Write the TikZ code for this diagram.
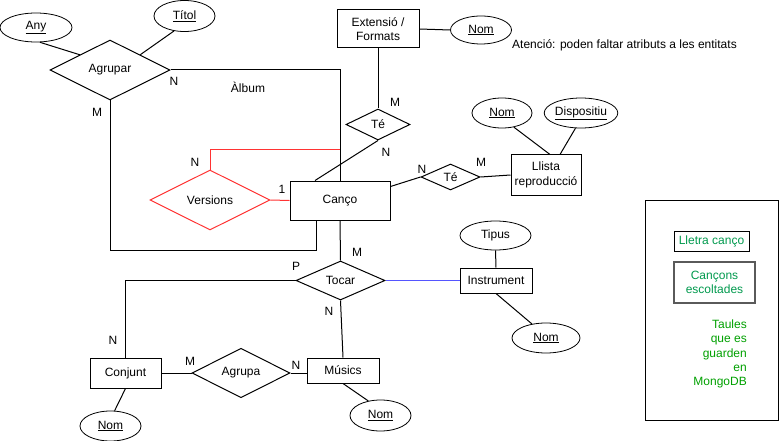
\documentclass[tikz,border=0pt]{standalone}
\usepackage{fontspec}
\setmainfont{Liberation Sans}
\usetikzlibrary{shapes.geometric}
\definecolor{erred}{RGB}{255,51,51}
\definecolor{erblue}{RGB}{85,85,255}
\definecolor{mgreen}{RGB}{0,153,77}
\definecolor{tgreen}{RGB}{0,160,0}
\definecolor{dgray}{RGB}{90,90,90}
\begin{document}
\begin{tikzpicture}[x=1pt,y=-1pt,
  every node/.style={font=\fontsize{12}{14.4}\selectfont, inner sep=0pt},
  ent/.style={draw, rectangle, fill=white, align=center, line width=1pt},
  rel/.style={draw, diamond, fill=white, align=center, line width=1pt},
  attr/.style={draw, ellipse, fill=white, align=center, line width=0.8pt},
  lbl/.style={},
  conn/.style={line width=1pt},
]
\useasboundingbox (0,0) rectangle (779,441);

% attributes
\node[attr, minimum width=72pt, minimum height=29pt] (any) at (36,27.5) {\underline{Any}};
\node[attr, minimum width=61pt, minimum height=31pt] (titol) at (184.5,16) {\underline{Títol}};
\node[attr, minimum width=61pt, minimum height=28pt] (nomext) at (481,30) {\underline{Nom}};
\node[attr, minimum width=60pt, minimum height=30pt] (nomll) at (502,113) {\underline{Nom}};
\node[attr, minimum width=64pt, minimum height=30pt] (disp) at (581,113) {\underline{Dispositiu}};
\node[attr, minimum width=71pt, minimum height=29pt] (tipus) at (495.5,235.5) {Tipus};
\node[attr, minimum width=68pt, minimum height=30pt] (nominst) at (546,338) {\underline{Nom}};
\node[attr, minimum width=61pt, minimum height=31pt] (nommus) at (380.5,415.5) {\underline{Nom}};
\node[attr, minimum width=61pt, minimum height=30pt] (nomconj) at (110.5,426) {\underline{Nom}};

% entities
\node[ent, minimum width=100pt, minimum height=39pt] (canco) at (340,200.5) {Canço};
\node[ent, minimum width=82pt, minimum height=38pt] (ext) at (378,29) {Extensió /\\Formats};
\node[ent, minimum width=70pt, minimum height=40pt] (llista) at (546,175) {Llista\\reproducció};
\node[ent, minimum width=72pt, minimum height=25pt] (inst) at (496,280.5) {Instrument};
\node[ent, minimum width=71pt, minimum height=30pt] (conjunt) at (125.5,373) {Conjunt};
\node[ent, minimum width=72pt, minimum height=25pt] (musics) at (343,370.5) {Músics};

% relationships
\node[rel, minimum width=120pt, minimum height=60pt] (agrupar) at (110,70) {Agrupar};
\node[rel, draw=erred, minimum width=120pt, minimum height=60pt] (versions) at (210,200) {Versions};
\node[rel, minimum width=64pt, minimum height=31pt] (te1) at (378,124.5) {Té};
\node[rel, minimum width=59pt, minimum height=26pt] (te2) at (450.5,177) {Té};
\node[rel, minimum width=89pt, minimum height=39pt] (tocar) at (340.5,280.5) {Tocar};
\node[rel, minimum width=98pt, minimum height=40pt] (agrupa) at (241,373) {Agrupa};

% red connectors (versions)
\draw[conn, erred] (versions.east) -- (canco.west);
\draw[conn, erred] (versions.north) -- ++(0,-20) -| (canco.north);

% black connectors
\draw[conn] (any.-75) -- (agrupar.north west);
\draw[conn] (titol.235) -- (agrupar.north east);
\draw[conn] (agrupar.east) -| (canco.north);
\draw[conn] (agrupar.south) -- ++(0,150) -| ([xshift=-24pt]canco.south);
\draw[conn] (ext.east) -- (nomext.west);
\draw[conn] (ext.south) -- (te1.north);
\draw[conn] (te1.south) -- ([xshift=-25pt]canco.north);
\draw[conn] ([yshift=14pt]canco.east) -- (te2.west);
\draw[conn] (te2.east) -- (llista.west);
\draw[conn] (nomll.-50) -- ([xshift=4pt]llista.north);
\draw[conn] (disp.250) -- ([xshift=14pt]llista.north);
\draw[conn] (canco.south) -- (tocar.north);
\draw[conn, erblue] (tocar.east) -- (inst.west);
\draw[conn] (tipus.south) -- (inst.north);
\draw[conn] (inst.south) -- (nominst.135);
\draw[conn] (tocar.west) -| (conjunt.north);
\draw[conn] (tocar.south) -- (musics.north);
\draw[conn] (conjunt.east) -- (agrupa.west);
\draw[conn] (agrupa.east) -- (agrupa.east -| musics.west);
\draw[conn] (musics.south) -- (nommus.130);
\draw[conn] (conjunt.south) -- (nomconj.75);

% cardinality labels
\node[lbl] (c1) at (174,81) {N};
\node[lbl] (album) at (248,87) {Àlbum};
\node[lbl] (c2) at (97,112) {M};
\node[lbl] (c3) at (395,102) {M};
\node[lbl] (c4) at (386,152) {N};
\node[lbl] (c5) at (422,169) {N};
\node[lbl] (c6) at (481,162) {M};
\node[lbl] (c7) at (195,162) {N};
\node[lbl] (c8) at (282,189) {1};
\node[lbl] (c9) at (357,252) {M};
\node[lbl] (c10) at (296,266) {P};
\node[lbl] (c11) at (329,311) {N};
\node[lbl] (c12) at (113,340) {N};
\node[lbl] (c13) at (190,361) {M};
\node[lbl] (c14) at (296,365) {N};

% note
\node[lbl, anchor=west] (note) at (512,45) {Atenció: poden faltar atributs a les entitats};

% legend panel
\node[draw, line width=1pt, minimum width=133pt, minimum height=220pt] (panel) at (711.5,310) {};
\node[draw, line width=1pt, text=mgreen, minimum width=75pt, minimum height=20pt] (lletra) at (711.5,241) {Lletra canço};
\node[draw=dgray, line width=1.5pt, text=mgreen, align=center, minimum width=81pt, minimum height=41pt] (escoltades) at (714.5,282.5) {Cançons\\escoltades};
\node[text=tgreen, align=right, anchor=east] (taules) at (747,354) {Taules\\que es\\guarden\\en\\MongoDB};
\end{tikzpicture}
\end{document}
